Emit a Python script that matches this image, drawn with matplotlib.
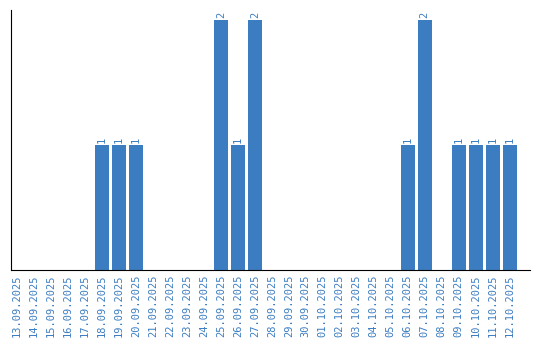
import matplotlib
matplotlib.use("Agg")
import matplotlib.pyplot as plt
import numpy as np

dates = ["13.09.2025", "14.09.2025", "15.09.2025", "16.09.2025", "17.09.2025",
         "18.09.2025", "19.09.2025", "20.09.2025", "21.09.2025", "22.09.2025",
         "23.09.2025", "24.09.2025", "25.09.2025", "26.09.2025", "27.09.2025",
         "28.09.2025", "29.09.2025", "30.09.2025", "01.10.2025", "02.10.2025",
         "03.10.2025", "04.10.2025", "05.10.2025", "06.10.2025", "07.10.2025",
         "08.10.2025", "09.10.2025", "10.10.2025", "11.10.2025", "12.10.2025"]
counts = [0, 0, 0, 0, 0,
          1, 1, 1, 0, 0,
          0, 0, 2, 1, 2,
          0, 0, 0, 0, 0,
          0, 0, 0, 1, 2,
          0, 1, 1, 1, 1]

blue = "#3c7dc1"

fig = plt.figure(figsize=(5.4, 3.4), dpi=100)
ax = fig.add_axes([11 / 540, 70 / 340, 519 / 540, 260 / 340])

x = np.arange(len(dates))
ax.bar(x, counts, width=0.82, color=blue)

for xi, c in zip(x, counts):
    if c > 0:
        ax.text(xi, c + 0.02, str(c), rotation=90, ha="center", va="bottom",
                color=blue, fontsize=7.5, family="DejaVu Sans Mono")

ax.set_xlim(-0.35, len(dates) - 1 + 1.2)
ax.set_ylim(0, 2.08)
ax.set_xticks(x)
ax.set_xticklabels(dates, rotation=90, color=blue, fontsize=7.5,
                   family="DejaVu Sans Mono")
ax.tick_params(axis="x", length=0, pad=3.5)
ax.set_yticks([])
ax.spines["top"].set_visible(False)
ax.spines["right"].set_visible(False)

fig.savefig("out.png", dpi=100)
